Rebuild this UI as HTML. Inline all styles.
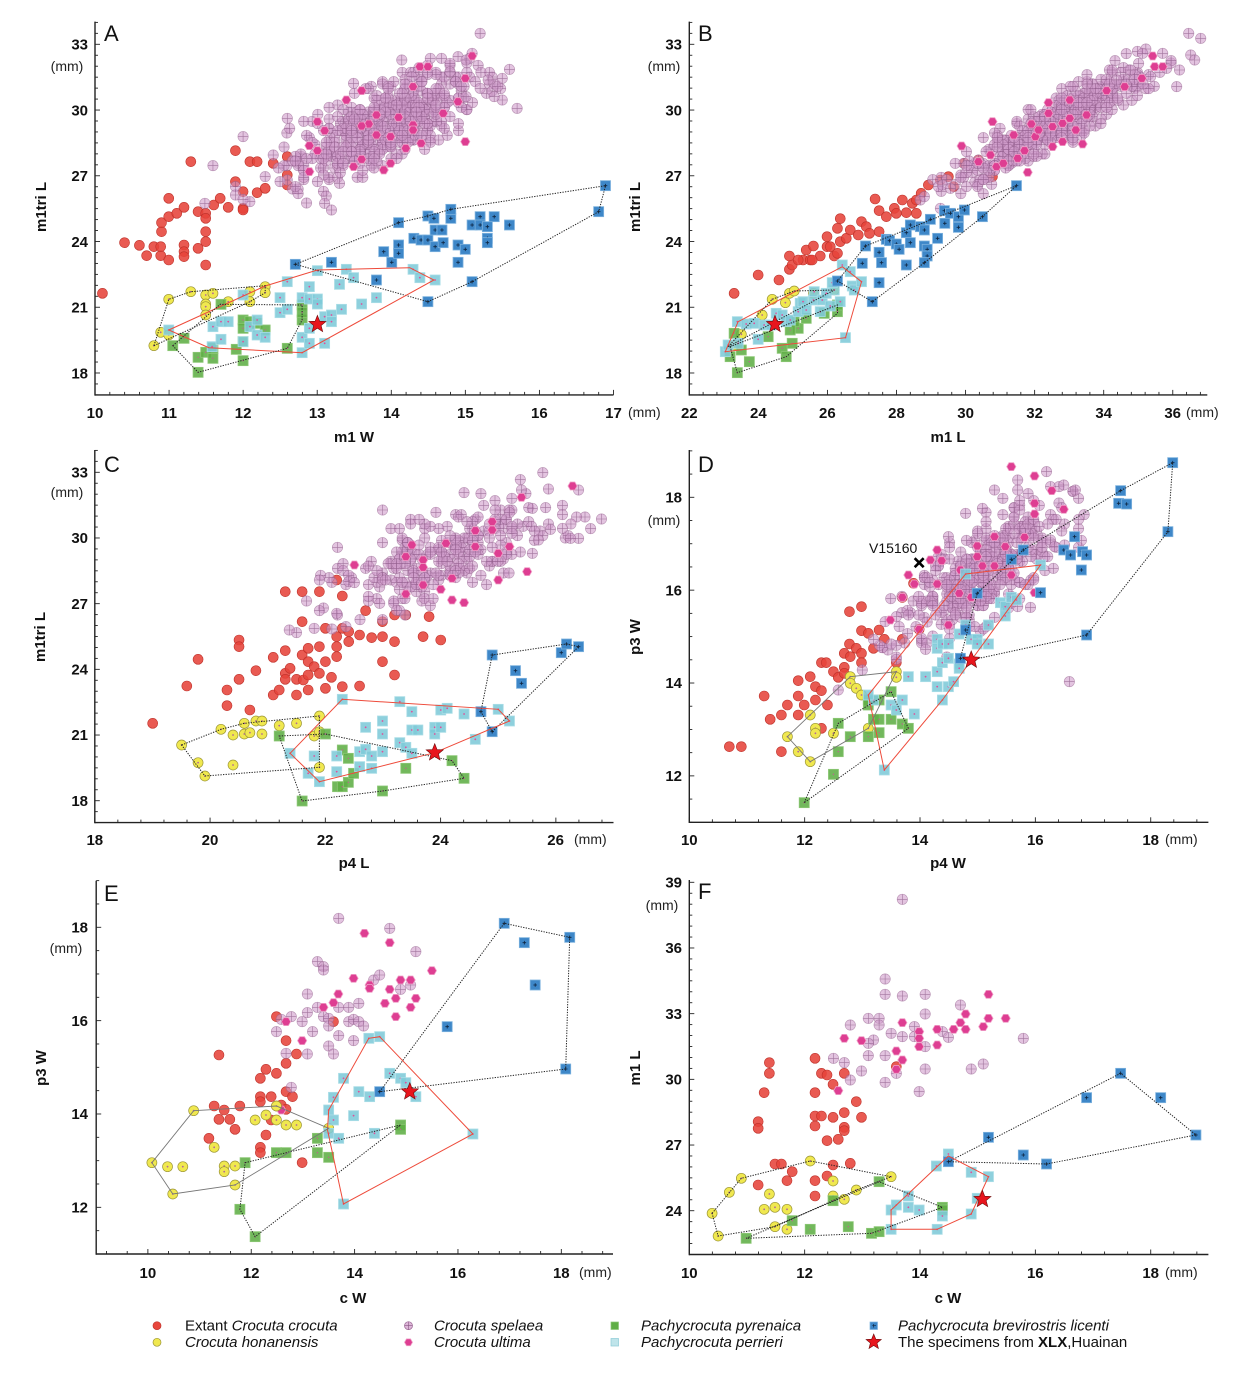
<!DOCTYPE html>
<html><head><meta charset="utf-8">
<style>
body{margin:0;background:#fff;}
svg{display:block;font-family:"Liberation Sans",Arial,sans-serif;}
.tk{font-weight:bold;font-size:15px;fill:#111;}
.ti{font-weight:bold;font-size:15px;fill:#111;}
.mm{font-size:14px;fill:#222;}
.pl{font-size:22px;fill:#111;}
.lg{font-size:15px;fill:#111;}
</style></head>
<body>
<svg id="s" width="1258" height="1375" viewBox="0 0 1258 1375" xmlns="http://www.w3.org/2000/svg">
<rect width="1258" height="1375" fill="#fff"/>
<g id="plots"></g>
<!-- Panel A -->
<text class="pl" x="104" y="41">A</text>
<text class="mm" x="67" y="71" text-anchor="middle">(mm)</text>
<g class="tk" text-anchor="end">
<text x="88" y="49.5">33</text><text x="88" y="115.3">30</text><text x="88" y="181">27</text><text x="88" y="246.8">24</text><text x="88" y="312.6">21</text><text x="88" y="378.4">18</text>
</g>
<g class="tk" text-anchor="middle">
<text x="95" y="418">10</text><text x="169.1" y="418">11</text><text x="243.1" y="418">12</text><text x="317.2" y="418">13</text><text x="391.3" y="418">14</text><text x="465.4" y="418">15</text><text x="539.4" y="418">16</text><text x="613.5" y="418">17</text>
</g>
<text class="mm" x="628" y="417">(mm)</text>
<text class="ti" x="354" y="442" text-anchor="middle">m1 W</text>
<text class="ti" transform="translate(46,207) rotate(-90)" text-anchor="middle">m1tri L</text>
<!-- Panel B -->
<text class="pl" x="698" y="41">B</text>
<text class="mm" x="664" y="71" text-anchor="middle">(mm)</text>
<g class="tk" text-anchor="end">
<text x="682" y="49.5">33</text><text x="682" y="115.3">30</text><text x="682" y="181">27</text><text x="682" y="246.8">24</text><text x="682" y="312.6">21</text><text x="682" y="378.4">18</text>
</g>
<g class="tk" text-anchor="middle">
<text x="689.3" y="418">22</text><text x="758.4" y="418">24</text><text x="827.4" y="418">26</text><text x="896.5" y="418">28</text><text x="965.6" y="418">30</text><text x="1034.6" y="418">32</text><text x="1103.7" y="418">34</text><text x="1172.7" y="418">36</text>
</g>
<text class="mm" x="1186" y="417">(mm)</text>
<text class="ti" x="948" y="442" text-anchor="middle">m1 L</text>
<text class="ti" transform="translate(640,207) rotate(-90)" text-anchor="middle">m1tri L</text>
<!-- Panel C -->
<text class="pl" x="104" y="472">C</text>
<text class="mm" x="67" y="497" text-anchor="middle">(mm)</text>
<g class="tk" text-anchor="end">
<text x="88" y="477.5">33</text><text x="88" y="543.2">30</text><text x="88" y="608.9">27</text><text x="88" y="674.5">24</text><text x="88" y="740.2">21</text><text x="88" y="805.9">18</text>
</g>
<g class="tk" text-anchor="middle">
<text x="94.8" y="845">18</text><text x="210" y="845">20</text><text x="325.2" y="845">22</text><text x="440.4" y="845">24</text><text x="555.6" y="845">26</text>
</g>
<text class="mm" x="574" y="844">(mm)</text>
<text class="ti" x="354" y="868" text-anchor="middle">p4 L</text>
<text class="ti" transform="translate(45,637) rotate(-90)" text-anchor="middle">m1tri L</text>
<!-- Panel D -->
<text class="pl" x="698" y="472">D</text>
<text class="mm" x="664" y="525" text-anchor="middle">(mm)</text>
<g class="tk" text-anchor="end">
<text x="682" y="502.5">18</text><text x="682" y="595.3">16</text><text x="682" y="688.1">14</text><text x="682" y="780.9">12</text>
</g>
<g class="tk" text-anchor="middle">
<text x="689.3" y="845">10</text><text x="804.6" y="845">12</text><text x="919.9" y="845">14</text><text x="1035.3" y="845">16</text><text x="1150.7" y="845">18</text>
</g>
<text class="mm" x="1165" y="844">(mm)</text>
<text class="ti" x="948" y="868" text-anchor="middle">p4 W</text>
<text class="ti" transform="translate(640,637) rotate(-90)" text-anchor="middle">p3 W</text>
<text x="869" y="553" style="font-size:14px;fill:#111">V15160</text>
<!-- Panel E -->
<text class="pl" x="104" y="901">E</text>
<text class="mm" x="66" y="953" text-anchor="middle">(mm)</text>
<g class="tk" text-anchor="end">
<text x="88" y="932.5">18</text><text x="88" y="1025.8">16</text><text x="88" y="1119.2">14</text><text x="88" y="1212.5">12</text>
</g>
<g class="tk" text-anchor="middle">
<text x="147.9" y="1278">10</text><text x="251.2" y="1278">12</text><text x="354.6" y="1278">14</text><text x="457.9" y="1278">16</text><text x="561.3" y="1278">18</text>
</g>
<text class="mm" x="579" y="1277">(mm)</text>
<text class="ti" x="353" y="1303" text-anchor="middle">c W</text>
<text class="ti" transform="translate(46,1068) rotate(-90)" text-anchor="middle">p3 W</text>
<!-- Panel F -->
<text class="pl" x="698" y="899">F</text>
<text class="mm" x="662" y="910" text-anchor="middle">(mm)</text>
<g class="tk" text-anchor="end">
<text x="682" y="887.5">39</text><text x="682" y="953.2">36</text><text x="682" y="1018.9">33</text><text x="682" y="1084.6">30</text><text x="682" y="1150.2">27</text><text x="682" y="1215.9">24</text>
</g>
<g class="tk" text-anchor="middle">
<text x="689.3" y="1278">10</text><text x="804.6" y="1278">12</text><text x="919.9" y="1278">14</text><text x="1035.3" y="1278">16</text><text x="1150.7" y="1278">18</text>
</g>
<text class="mm" x="1165" y="1277">(mm)</text>
<text class="ti" x="948" y="1303" text-anchor="middle">c W</text>
<text class="ti" transform="translate(640,1068) rotate(-90)" text-anchor="middle">m1 L</text>
<!-- Legend -->
<g id="legm"></g>
<g class="lg">
<text x="185" y="1330.5">Extant <tspan font-style="italic">Crocuta crocuta</tspan></text>
<text x="185" y="1347.2" font-style="italic">Crocuta honanensis</text>
<text x="434" y="1330.5" font-style="italic">Crocuta spelaea</text>
<text x="434" y="1347.2" font-style="italic">Crocuta ultima</text>
<text x="641" y="1330.5" font-style="italic">Pachycrocuta pyrenaica</text>
<text x="641" y="1347.2" font-style="italic">Pachycrocuta perrieri</text>
<text x="898" y="1330.5" font-style="italic">Pachycrocuta brevirostris licenti</text>
<text x="898" y="1347.2">The specimens from <tspan font-weight="bold">XLX</tspan>,Huainan</text>
</g>
</svg>
<script>
(function(){
var NS='http://www.w3.org/2000/svg';
var G=document.getElementById('plots');
function el(tag,a,p){var e=document.createElementNS(NS,tag);for(var k in a)e.setAttribute(k,a[k]);(p||G).appendChild(e);return e;}
var seed=987654;
function R(){seed|=0;seed=seed+0x6D2B79F5|0;var t=Math.imul(seed^seed>>>15,1|seed);t=t+Math.imul(t^t>>>7,61|t)^t;return((t^t>>>14)>>>0)/4294967296;}
function gauss(){var u=0;while(u===0)u=R();var v=R();var g=Math.sqrt(-2*Math.log(u))*Math.cos(2*Math.PI*v);return Math.max(-2.3,Math.min(2.3,g));}

function mRed(x,y,p){el('circle',{cx:x,cy:y,r:5,fill:'#e6433a','fill-opacity':0.88,stroke:'#bf322b','stroke-width':0.6},p);}
function mYel(x,y,p){el('circle',{cx:x,cy:y,r:5,fill:'#f0e84f',stroke:'#9c9638','stroke-width':0.7},p);el('circle',{cx:x,cy:y,r:0.9,fill:'#b06a98'},p);}
function mSpe(x,y,p){el('circle',{cx:x,cy:y,r:5.2,fill:'#d09ccb','fill-opacity':0.6,stroke:'#94608e','stroke-opacity':0.6,'stroke-width':0.6},p);
 el('path',{d:'M'+(x-5)+' '+y+'H'+(x+5)+'M'+x+' '+(y-5)+'V'+(y+5),stroke:'#74406f','stroke-opacity':0.6,'stroke-width':0.6,fill:'none'},p);}
function hexPts(x,y,r){var s='';for(var i=0;i<6;i++){var a=Math.PI/3*i;s+=(x+r*Math.cos(a)).toFixed(2)+','+(y+r*Math.sin(a)).toFixed(2)+' ';}return s;}
function mUlt(x,y,p){el('polygon',{points:hexPts(x,y,4.6),fill:'#de3e92',stroke:'#f0a3c9','stroke-width':0.8},p);}
function mGrn(x,y,p){el('rect',{x:x-5,y:y-5,width:10,height:10,fill:'#5fae45','fill-opacity':0.88,stroke:'#8cc775','stroke-width':0.8},p);el('circle',{cx:x,cy:y,r:0.7,fill:'#c06090'},p);}
function mCya(x,y,p){el('rect',{x:x-5,y:y-5,width:10,height:10,fill:'#7ecad8','fill-opacity':0.88,stroke:'#a9dde6','stroke-width':0.8},p);el('circle',{cx:x,cy:y,r:0.9,fill:'#e0509a'},p);}
function mBlu(x,y,p){el('rect',{x:x-5,y:y-5,width:10,height:10,fill:'#3e87c8',stroke:'#7cb1de','stroke-width':0.8},p);
 el('path',{d:'M'+(x-1.8)+' '+y+'H'+(x+1.8)+'M'+x+' '+(y-1.8)+'V'+(y+1.8),stroke:'#0d2440','stroke-width':0.8,fill:'none'},p);}
function mStar(x,y,p,ro,ri){ro=ro||9;ri=ri||3.9;var s='';for(var i=0;i<10;i++){var r=i%2?ri:ro;var a=-Math.PI/2+Math.PI/5*i;s+=(x+r*Math.cos(a)).toFixed(2)+','+(y+r*Math.sin(a)).toFixed(2)+' ';}
 el('polygon',{points:s,fill:'#e8151d',stroke:'#6e0a0a','stroke-width':0.6},p);}

function axes(o){
 var g=el('g',{stroke:'#222',fill:'none'});
 el('line',{x1:o.x0,y1:o.yb,x2:o.x1,y2:o.yb,'stroke-width':1.4},g);
 el('line',{x1:o.x0,y1:o.yt,x2:o.x0,y2:o.yb+0.7,'stroke-width':1.4},g);
 var xs=(o.x1-o.x0)/(o.xv1-o.xv0);
 var v,k;
 for(k=Math.ceil((o.xv0)/o.xm-1e-6);k*o.xm<=o.xv1+1e-6;k++){v=k*o.xm;var px=o.x0+(v-o.xv0)*xs;
   var maj=Math.abs(v/o.xM-Math.round(v/o.xM))<1e-6;
   el('line',{x1:px,y1:o.yb,x2:px,y2:o.yb-(maj?5:3),'stroke-width':0.9},g);}
 var ys=(o.yb-o.ypv1)/(o.yv1-o.yv0);
 for(k=Math.ceil(o.yv0/o.ym-1e-6);k*o.ym<=o.yvt+1e-6;k++){v=k*o.ym;var py=o.yb-(v-o.yv0)*ys;
   var majy=Math.abs(v/o.yM-Math.round(v/o.yM))<1e-6;
   el('line',{x1:o.x0,y1:py,x2:o.x0+(majy?5:3),y2:py,'stroke-width':0.9},g);}
}
axes({x0:95,x1:613.5,xv0:10,xv1:17,xm:0.2,xM:1,yb:394.9,yt:21.6,yv0:17,yv1:33,ypv1:44.3,yvt:34,ym:0.5,yM:3});
axes({x0:689.3,x1:1207.3,xv0:22,xv1:37,xm:0.4,xM:2,yb:394.9,yt:21.6,yv0:17,yv1:33,ypv1:44.3,yvt:34,ym:0.5,yM:3});
axes({x0:94.8,x1:613.5,xv0:18,xv1:27,xm:0.4,xM:2,yb:822.6,yt:450,yv0:17,yv1:33,ypv1:472.3,yvt:34,ym:0.5,yM:3});
axes({x0:689.3,x1:1208.4,xv0:10,xv1:19,xm:0.4,xM:2,yb:822.3,yt:450,yv0:11,yv1:18,ypv1:497.3,yvt:19,ym:0.5,yM:2});
axes({x0:96.2,x1:613,xv0:9,xv1:19,xm:0.4,xM:2,yb:1254,yt:880.7,yv0:11,yv1:18,ypv1:927.3,yvt:19,ym:0.5,yM:2});
axes({x0:689.3,x1:1208.4,xv0:10,xv1:19,xm:0.4,xM:2,yb:1254.5,yt:880,yv0:22,yv1:39,ypv1:882.3,yvt:39,ym:0.5,yM:3});

function mk(ox,oy,sx){return function(a){var r=[];for(var i=0;i<a.length;i+=2)r.push([ox+a[i]*sx,oy+a[i+1]/3]);return r;};}
function cloud(cx,cy,dx,dy,sa,sp,n){var L=Math.sqrt(dx*dx+dy*dy),ux=dx/L,uy=dy/L,vx=-uy,vy=ux;var r=[];
 for(var i=0;i<n;i++){var a=gauss()*sa,b=gauss()*sp;r.push(Math.round((cx+a*ux+b*vx)/7)*7,Math.round((cy+a*uy+b*vy)/7)*7);}return r;}
function draw(P,d){
 var g=el('g',{});
 function each(arr,f){if(!arr)return;var q=P(arr);for(var j=0;j<q.length;j++)f(q[j][0],q[j][1],g);}
 each(d.red,mRed);
 each(d.spe,mSpe);
 each(d.ult,mUlt);
 each(d.yel,mYel);
 each(d.grn,mGrn);
 each(d.cya,mCya);
 each(d.blu,mBlu);
 (d.hulls||[]).forEach(function(h){var q=P(h[1]);var s=q.map(function(p){return p[0].toFixed(1)+','+p[1].toFixed(1);}).join(' ');
   var st=h[0]==='r'?{stroke:'#ee4a3a','stroke-width':1,fill:'none'}:h[0]==='g'?{stroke:'#777','stroke-width':0.9,fill:'none'}:{stroke:'#222','stroke-width':1,'stroke-dasharray':'1.3,1.3',fill:'none'};
   st.points=s;el('polygon',st,g);});
 each(d.star,function(x,y,gg){mStar(x,y,gg);});
}

var PA=mk(0,0,630/1568);
draw(PA,{
red:[255,880,310,728,347,736,365,767,383,740,400,767,400,740,402,695,402,668,420,780,420,650,420,595,440,640,458,735,458,755,458,770,458,622,475,485,493,635,493,745,512,640,512,655,512,695,512,725,512,795,532,615,548,595,568,622,586,452,586,545,605,575,605,625,622,485,640,485,640,578,660,565,680,490,715,525,715,555,715,470,605,630],
spe:cloud(960,370,480,-300,130,50,470).concat([715,355,605,410,530,497,510,610,622,605,586,560,586,585,605,598,680,465,697,545,715,540,735,560,660,530,790,545,808,610,825,630,845,550,880,250,1195,100,1175,160,1215,240,1250,300,1268,208,1287,325,1250,235,1120,190,1120,215,1000,180,1025,230,1140,170,1160,180,1195,265,1160,290,1230,290]),
ult:[1175,168,1045,200,1065,200,1158,235,900,272,862,300,1028,260,790,365,808,392,918,372,900,378,937,345,992,352,937,405,972,410,1028,375,1028,390,1103,340,1140,305,770,437,790,452,880,500,900,478,972,490,1010,445,1048,430,1158,425,770,515,955,510],
yel:[383,1037,400,997,420,1005,420,898,475,875,512,885,512,912,512,920,512,945,530,880,568,905,622,875,622,905,660,860,660,878],
grn:[430,1037,458,1015,493,1072,493,1117,512,1057,530,1075,530,1045,550,913,588,1048,605,1082,605,960,605,985,605,1025,622,965,640,970,660,990,715,1045,752,915,752,960,752,937],
cya:[420,990,528,1040,530,980,550,1018,550,965,568,965,605,885,605,1025,622,980,640,960,640,1005,660,1012,697,893,697,938,715,845,715,928,752,893,752,1012,752,1058,770,860,770,897,770,985,770,1030,790,897,790,912,790,812,808,950,808,1030,825,945,825,965,845,853,850,928,862,808,880,833,900,912,937,893,1028,808,1045,833,1083,840],
blu:[735,793,825,787,937,840,955,755,975,787,992,735,992,760,992,668,1030,715,1048,720,1065,720,1083,740,1083,690,1100,690,1103,728,1065,648,1080,655,1122,655,1122,628,1140,735,1140,787,1158,748,1175,675,1195,650,1195,675,1213,680,1213,715,1213,728,1230,650,1268,675,1175,845,1065,905,1507,557,1490,635],
hulls:[['k',[735,793,992,668,1065,648,1122,628,1507,557,1490,635,1175,845,1065,905]],
 ['r',[420,990,660,858,790,810,1020,803,1080,840,752,1058,520,1043]],
 ['k',[430,1037,548,913,752,915,752,960,715,1045,493,1117]],
 ['k',[383,1037,420,898,475,875,660,857,660,878,622,905]]],
star:[790,973]});

var PB=mk(630,0,628/1568);
draw(PB,{
red:[260,880,320,825,372,840,398,768,398,808,405,795,432,780,440,750,450,780,458,738,475,768,492,710,492,740,510,768,518,760,525,656,518,685,525,725,540,715,550,690,570,705,578,665,590,680,598,700,612,597,622,632,622,695,640,650,660,625,665,640,680,600,690,638,705,610,715,640,715,600,727,580,745,555,775,540,795,530,808,560,835,490,870,480,905,530,500,740,455,780,420,780],
spe:cloud(1060,370,620,-460,150,30,450).concat([1395,100,1425,115,1400,165,1410,180,1365,260,1330,160,1280,160,780,555,800,565,725,600,735,590,840,560,775,625,870,480,1270,190,1300,230,1340,205,1250,210,1215,240]),
ult:[828,438,905,365,900,465,915,500,932,490,958,405,985,452,968,475,993,517,1002,372,1012,410,1020,390,1045,308,1045,340,1055,380,1055,440,1080,370,1080,425,1098,300,1098,355,1113,390,1130,432,1140,345,1190,272,1235,260,1278,235,1305,168,1310,200,1330,200,870,485],
yel:[260,1035,278,1003,330,945,355,898,388,908,398,880,410,873,458,880,510,870],
grn:[250,1070,268,1118,278,1050,298,1085,345,1010,380,1045,390,1070,405,1030,420,985,440,955,410,965,485,940,518,935,518,915,260,1000,400,990],
cya:[238,1055,245,1035,268,965,270,1030,290,972,310,970,320,1018,335,975,352,975,365,940,380,945,390,965,400,960,420,935,425,910,432,905,440,930,458,900,460,875,475,935,480,900,490,880,500,918,510,870,525,905,530,795,550,815,555,858,560,870,578,845,538,1013,505,848],
blu:[588,738,580,790,622,757,628,788,622,848,640,718,648,722,665,732,672,748,690,698,700,675,700,728,690,795,725,680,735,690,735,738,742,748,742,768,735,788,750,658,768,715,785,632,800,640,786,670,820,650,820,682,835,630,880,650,965,557,605,905,518,843],
hulls:[['k',[588,738,965,557,880,650,735,788,605,905,518,843]],
 ['r',[238,1055,270,965,530,800,578,845,538,1013]],
 ['k',[250,1040,518,915,518,940,390,1070,268,1118]],
 ['k',[245,1040,355,898,410,873,510,870]]],
star:[362,973]});

var PC=mk(0,440,630/1568);
draw(PC,{
red:[380,850,465,738,493,658,565,750,565,797,595,600,595,620,595,718,622,810,637,692,680,652,680,765,695,750,710,455,710,632,710,700,710,718,722,685,738,718,738,765,752,455,752,545,752,645,755,720,767,625,767,665,767,705,767,750,782,680,795,455,795,620,795,700,810,565,810,665,810,745,825,712,838,420,838,590,838,620,838,650,852,468,852,565,852,740,868,605,868,575,895,585,895,738,910,512,925,593,952,545,952,590,952,665,982,525,982,605,982,705,1010,525,1068,530,1053,590,1097,600],
spe:cloud(1100,345,1,-0.45,160,55,270).concat([1155,158,1298,150,1440,150,1497,237,1325,205,1268,218,952,210,738,578,720,570,795,512,838,520,782,565,795,420,868,425,882,428,1400,265,1440,295,1420,295,1370,268,1340,300,1325,340]),
ult:[882,375,1025,315,1010,350,1053,360,1053,382,1110,310,1125,415,1097,448,1053,435,1125,480,1155,488,1010,462,1183,272,1183,320,1225,245,1225,270,1240,340,1240,420,1268,320,1298,172,1312,395,1425,138],
yel:[452,915,493,968,510,1008,550,868,580,885,580,975,608,850,608,882,622,878,637,843,652,843,652,882,695,857,738,850,782,888,795,828,795,875,795,982],
grn:[695,888,752,1083,810,882,840,1040,852,1040,852,930,867,1027,867,955,880,1000,952,1053,1010,985,1125,962,1155,1015],
cya:[722,940,767,1000,782,948,795,1025,838,948,838,995,852,778,895,935,910,862,910,928,925,948,925,985,895,980,952,843,952,882,952,935,995,785,995,908,1010,922,1025,815,1025,870,1025,940,1040,870,1082,862,1082,882,1097,862,1097,810,1113,805,1155,822,1183,898,1240,808,1268,843],
blu:[1197,815,1225,645,1225,875,1283,692,1298,730,1397,638,1410,612,1440,620],
hulls:[['k',[1197,815,1225,645,1410,612,1440,620,1225,875]],
 ['r',[722,940,852,778,1240,808,1268,843,1082,938,795,1025]],
 ['k',[695,888,810,882,1125,962,1155,1015,952,1053,752,1083]],
 ['k',[452,915,550,868,608,850,795,828,795,982,510,1008]]],
star:[1082,938]});

var PD=mk(630,440,628/1568);
draw(PD,{
red:[248,920,278,920,335,768,350,838,378,825,378,935,393,795,420,722,420,768,420,825,435,795,450,710,463,740,463,780,478,668,478,752,490,668,493,795,478,865,508,695,520,712,535,640,535,682,548,515,548,612,565,625,578,500,578,572,578,640,578,668,595,580,608,625,622,570,635,598,665,668,680,598,680,472,708,430,722,568,535,700,550,650],
spe:cloud(880,400,1,-1.05,145,52,400).concat([1097,725,968,120,968,150,910,150,1040,95,1083,135,1112,150,795,290,838,220,880,205,580,690,520,750,608,598,652,612,637,545,665,530,695,525,738,628,1000,502,968,500,1050,300,1060,320]),
ult:[952,80,1010,108,1053,152,1083,208,1010,190,1010,222,910,290,867,318,937,320,867,350,880,378,910,378,952,405,825,390,767,330,750,360,778,362,695,405,767,432,822,460,852,472,680,472,795,555,710,432,1010,458,985,292,650,540,722,568],
yel:[393,890,420,935,450,965,450,825,463,865,463,880,508,880,550,710,550,730,565,745,578,765,595,865,665,695,665,712],
grn:[435,1088,508,1003,520,935,520,850,550,890,595,890,595,780,622,878,608,838,622,838,622,780,652,838,652,755,680,852,695,865,595,795],
cya:[838,402,1025,375,635,990,695,710,738,710,767,598,767,625,767,695,767,740,780,612,780,668,780,780,795,612,795,740,795,655,808,725,822,582,822,672,822,685,838,555,852,598,867,598,867,612,895,612,895,555,925,488,937,500,937,528,952,472,965,480,680,780,652,795,665,810,710,822,608,780,595,765],
blu:[825,655,838,570,867,460,952,358,982,330,1025,458,1083,330,1100,345,1110,290,1130,335,1140,345,1127,390,1140,585,1220,190,1240,192,1225,152,1343,275,1355,68],
hulls:[['k',[825,655,867,460,982,330,1225,152,1355,68,1343,275,1140,585,852,660]],
 ['r',[595,765,838,402,1025,375,780,780,635,990]],
 ['k',[435,1088,520,850,652,755,695,865]],
 ['g',[393,890,550,710,665,695,595,865,450,965]]],
star:[852,660]});
(function(){var q=PD([722,368])[0];el('path',{d:'M'+(q[0]-4.5)+' '+(q[1]-4.5)+'L'+(q[0]+4.5)+' '+(q[1]+4.5)+'M'+(q[0]+4.5)+' '+(q[1]-4.5)+'L'+(q[0]-4.5)+' '+(q[1]+4.5),stroke:'#000','stroke-width':2.6,fill:'none'});})();

var PE=mk(0,870,630/1568);
draw(PE,{
red:[545,555,520,805,533,708,545,748,558,720,572,748,585,778,597,708,648,625,648,680,648,695,648,832,648,848,662,598,662,795,675,680,675,750,688,440,688,610,700,705,712,512,712,580,712,665,712,718,728,680,738,552,752,878,830,455,688,708],
spe:[688,485,700,448,712,550,725,440,725,652,752,455,765,372,765,428,765,552,778,485,790,275,805,290,805,300,790,412,805,440,818,445,818,468,818,528,830,552,843,145,843,412,843,497,868,412,868,455,880,512,880,448,893,400,893,455,905,468,930,330,945,315,970,175,997,358,1022,345,1035,245],
ult:[907,190,970,218,880,325,920,345,920,355,970,358,985,385,958,400,997,330,1022,330,1035,385,1075,302,1022,412,985,440,842,372,830,398,805,412,752,512,712,455,700,720],
yel:[378,878,417,890,455,890,430,972,482,722,533,832,558,888,558,905,585,888,585,945,635,750,662,735,688,750,688,708,712,765,738,765,818,775],
grn:[610,878,597,1018,635,1100,688,848,712,848,790,805,790,848,818,862,997,765,997,778],
cya:[818,720,830,682,830,750,818,790,843,805,855,625,855,1002,893,665,920,680,918,505,945,500,932,790,970,610,997,625,1010,638,1035,680,880,737,1177,792],
blu:[945,665,1113,470,1255,160,1305,218,1332,345,1418,202,1408,597],
hulls:[['k',[945,665,1255,160,1418,202,1408,597]],
 ['r',[945,500,1177,792,855,1002,815,780,818,720,918,505]],
 ['k',[610,878,997,765,635,1100,597,1018]],
 ['g',[378,878,482,722,688,708,818,775,585,945,430,972]]],
star:[1020,665]});

var PF=mk(630,870,628/1568);
draw(PF,{
red:[348,578,348,610,335,668,320,755,320,775,320,945,362,882,378,882,392,932,405,905,462,565,462,668,462,738,478,738,478,610,462,768,492,615,507,643,507,742,492,812,520,808,535,610,535,728,535,772,535,782,565,695,578,742,462,932,462,978,492,918,507,885,550,880,665,590],
spe:[680,88,637,327,637,373,680,378,737,373,737,432,622,445,595,445,622,465,550,465,595,557,637,557,680,500,652,490,710,470,710,500,737,530,780,485,795,502,825,405,508,565,535,578,550,630,578,603,637,637,665,610,722,665,737,597,852,597,882,582,982,505,608,510,595,520],
ult:[535,505,578,512,665,543,680,570,680,458,722,485,722,530,767,478,767,525,808,478,825,458,838,432,838,478,882,470,895,445,895,373,938,445,520,662,665,598,722,505],
yel:[205,1030,220,1098,248,967,278,925,348,972,335,1018,362,1012,362,1070,392,1018,392,1078,450,873,507,933,507,978,535,988,565,960,652,920],
grn:[290,1105,405,1052,450,1078,507,992,545,1070,603,1090,622,1085,622,935,780,1012,780,1020],
cya:[652,1020,652,1078,665,1005,695,978,695,1012,722,1020,765,888,767,1078,780,1038,795,852,852,907,852,1032,867,985,895,920],
blu:[795,875,895,802,982,855,1040,882,1140,683,1225,610,1325,683,1413,795],
hulls:[['k',[795,875,1225,610,1413,795,1040,882]],
 ['r',[652,1020,795,858,895,920,852,1032,767,1078,652,1078]],
 ['k',[290,1105,622,935,780,1012,603,1090]],
 ['k',[205,1030,278,925,450,873,652,920,565,960,362,1070,220,1098]]],
star:[880,988]});

var L=document.getElementById('legm');
function lc(x,y,f,s){el('circle',{cx:x,cy:y,r:4,fill:f,stroke:s,'stroke-width':0.7},L);}
lc(157,1325.7,'#e8463c','#c0352e');
lc(157,1342.3,'#f0e84f','#9c9638');
lc(408.5,1325.7,'#ddb6d8','#9a6694');
el('path',{d:'M404.5 1325.7H412.5M408.5 1321.7V1329.7',stroke:'#8a5785','stroke-width':0.6},L);
el('polygon',{points:hexPts(408.5,1342.3,4),fill:'#de3e92',stroke:'#f0a3c9','stroke-width':0.8},L);
el('rect',{x:611,y:1322,width:7.5,height:7.5,fill:'#5fae45',stroke:'#8cc775','stroke-width':0.7},L);
el('rect',{x:611,y:1338.5,width:7.5,height:7.5,fill:'#bfe4ea',stroke:'#8ccbd6','stroke-width':0.7},L);
el('rect',{x:870,y:1322,width:7.5,height:7.5,fill:'#3e87c8',stroke:'#7cb1de','stroke-width':0.7},L);
el('path',{d:'M872.3 1325.7H876M873.7 1324V1327.5',stroke:'#0d2440','stroke-width':0.7},L);
mStar(873.7,1342,L,8,3.5);
})();
</script>
</body></html>
